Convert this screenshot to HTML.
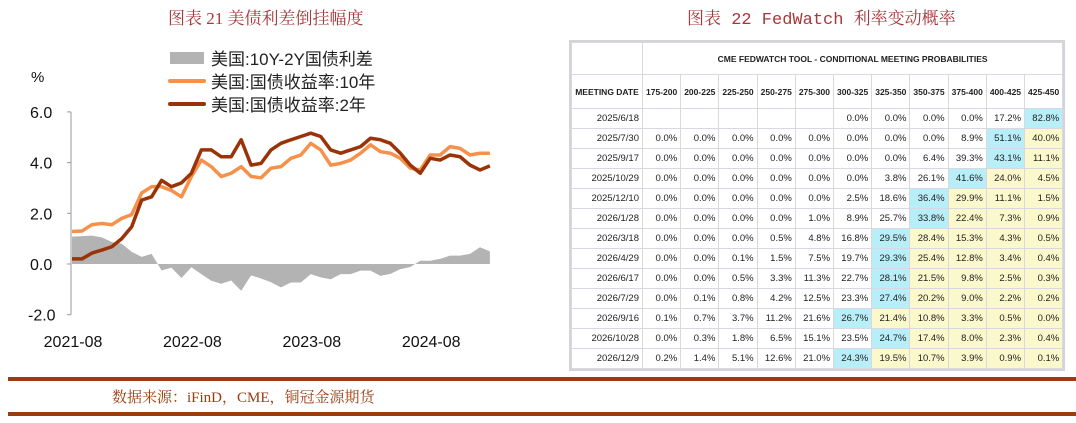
<!DOCTYPE html>
<html><head><meta charset="utf-8">
<style>
body{margin:0;width:1076px;height:423px;background:#fff;position:relative;overflow:hidden;font-family:"Liberation Sans","Noto Sans CJK SC",sans-serif}
.title{position:absolute;top:4px;font-family:"Liberation Serif","Noto Serif CJK SC",serif;font-size:17px;color:#a8373a}
#tbl{position:absolute;left:571px;top:42px;border-collapse:collapse;font-family:"Liberation Sans",sans-serif;font-size:9.5px;color:#222;background:#fff;outline:2px solid #d4d4d8}
#tbl td{border:1px solid #d8d8e0;text-align:right;padding:0 3px;height:19px;white-space:nowrap}
#tbl .h1 td{height:31px;text-align:center;font-weight:bold;font-size:8.5px}
#tbl .h2 td{height:33px;text-align:center;font-weight:bold;font-size:8.5px}
.cy{background:#b8eef8}.yl{background:#fbf8cc}
.rule{position:absolute;left:8px;width:1068px;height:4px;background:#9c3b0d}
</style></head><body>
<div class="title" style="left:168px">图表 21 美债利差倒挂幅度</div>
<div class="title" style="left:687px;font-family:'Liberation Mono','Noto Serif CJK SC',serif">图表 22 FedWatch 利率变动概率</div>
<svg id="chart" width="560" height="370" style="position:absolute;left:0;top:0"></svg>
<table id="tbl"></table>
<div class="rule" style="top:377px"></div>
<div style="position:absolute;left:112px;top:386px;font-family:'Liberation Serif','Noto Serif CJK SC',serif;font-size:15px;color:#9c3b0d">数据来源：iFinD，CME，铜冠金源期货</div>
<div class="rule" style="top:412px"></div>
<script>
const yields10 = [1.28,1.3,1.55,1.6,1.55,1.8,1.95,2.8,3.05,3.05,2.9,2.65,3.45,4.1,3.84,3.45,3.58,3.84,3.45,3.4,3.78,3.84,4.17,4.3,4.76,4.5,3.9,3.97,4.1,4.37,4.7,4.43,4.37,4.17,3.78,3.71,4.3,4.3,4.63,4.56,4.3,4.37,4.37];
const yields2 = [0.2,0.2,0.43,0.55,0.68,1.0,1.47,2.52,2.65,3.3,3.05,3.2,3.58,4.5,4.5,4.23,4.23,4.9,3.9,3.97,4.5,4.76,4.9,5.03,5.16,5.03,4.5,4.37,4.5,4.63,4.96,4.9,4.76,4.37,3.9,3.58,4.17,4.1,4.3,4.23,3.9,3.71,3.87];
const yTicks = [6.0,4.0,2.0,0.0,-2.0];
const xLabels = ["2021-08","2022-08","2023-08","2024-08"];
const xLabelIdx = [0,12,24,36];
const NS='http://www.w3.org/2000/svg';
const svg=document.getElementById('chart');
const X=i=>72+i*9.95, Y=v=>264-v*25.35;
function el(t,a){const e=document.createElementNS(NS,t);for(const k in a)e.setAttribute(k,a[k]);svg.appendChild(e);return e;}
let d='M'+X(0)+','+Y(0);
yields10.forEach((v,i)=>{d+=' L'+X(i)+','+Y(v-yields2[i]);});
d+=' L'+X(yields10.length-1)+','+Y(0)+' Z';
let a=el('path',{d:d,fill:'#b3b3b3'});


let ax=el('line',{x1:71,y1:Y(6),x2:71,y2:Y(-2),stroke:'#999','stroke-width':1});


yTicks.forEach(t=>{
  el('line',{x1:67,x2:71,y1:Y(t),y2:Y(t),stroke:'#999'});
  let tx=el('text',{x:t<0?28:30,y:Y(t)+6,'font-size':16,fill:'#111'});tx.textContent=t.toFixed(1);
  
  
});
xLabels.forEach((l,k)=>{
  let tx=el('text',{x:X(xLabelIdx[k])+1,y:347,'font-size':16,fill:'#111','text-anchor':'middle'});tx.textContent=l;
  
  
});
function line(arr,col,name){
  let p=arr.map((v,i)=>(i?'L':'M')+X(i)+','+Y(v)).join(' ');
  let e=el('path',{d:p,fill:'none',stroke:col,'stroke-width':3.5,'stroke-linejoin':'round'});
  
  
}
line(yields10,'#f5914a','line-10y-yield');
line(yields2,'#9a3308','line-2y-yield');
let pc=el('text',{x:31,y:82,'font-size':15,fill:'#111'});pc.textContent='%';


const leg=[['美国:10Y-2Y国债利差','#b3b3b3','box'],['美国:国债收益率:10年','#f5914a','l'],['美国:国债收益率:2年','#9a3308','l']];
leg.forEach((g,k)=>{
  const y=58+k*23;
  if(g[2]=='box')el('rect',{x:170,y:y-6,width:34,height:12,fill:g[1]});
  else el('line',{x1:170,x2:204,y1:y,y2:y,stroke:g[1],'stroke-width':4,'stroke-linecap':'round'});
  let t=el('text',{x:211,y:y+7,'font-size':17,fill:'#222'});t.textContent=g[0];
  
  
});
const cols=['175-200','200-225','225-250','250-275','275-300','300-325','325-350','350-375','375-400','400-425','425-450'];
const dates=['2025/6/18','2025/7/30','2025/9/17','2025/10/29','2025/12/10','2026/1/28','2026/3/18','2026/4/29','2026/6/17','2026/7/29','2026/9/16','2026/10/28','2026/12/9'];
const probs=[
[null,null,null,null,null,0,0,0,0,17.2,82.8],
[0,0,0,0,0,0,0,0,8.9,51.1,40.0],
[0,0,0,0,0,0,0,6.4,39.3,43.1,11.1],
[0,0,0,0,0,0,3.8,26.1,41.6,24.0,4.5],
[0,0,0,0,0,2.5,18.6,36.4,29.9,11.1,1.5],
[0,0,0,0,1.0,8.9,25.7,33.8,22.4,7.3,0.9],
[0,0,0,0.5,4.8,16.8,29.5,28.4,15.3,4.3,0.5],
[0,0,0.1,1.5,7.5,19.7,29.3,25.4,12.8,3.4,0.4],
[0,0,0.5,3.3,11.3,22.7,28.1,21.5,9.8,2.5,0.3],
[0,0.1,0.8,4.2,12.5,23.3,27.4,20.2,9.0,2.2,0.2],
[0.1,0.7,3.7,11.2,21.6,26.7,21.4,10.8,3.3,0.5,0.0],
[0,0.3,1.8,6.5,15.1,23.5,24.7,17.4,8.0,2.3,0.4],
[0.2,1.4,5.1,12.6,21.0,24.3,19.5,10.7,3.9,0.9,0.1]];
const tb=document.getElementById('tbl');
let h='<tr class="h1"><td style="width:64px"></td><td colspan="11">CME FEDWATCH TOOL - CONDITIONAL MEETING PROBABILITIES</td></tr>';
h+='<tr class="h2"><td>MEETING DATE</td>'+cols.map(c=>'<td style="width:31px">'+c+'</td>').join('')+'</tr>';
tb.innerHTML=h;
dates.forEach((dt,r)=>{
  const row=probs[r];let mi=0;row.forEach((v,i)=>{if(v!==null&&v>row[mi])mi=i;});
  const tr=document.createElement('tr');
  
  
  let s='<td>'+dt+'</td>';
  row.forEach((v,i)=>{const c=i==mi?'cy':(i>mi?'yl':'');s+='<td class="'+c+'">'+(v===null?'':v.toFixed(1)+'%')+'</td>';});
  tr.innerHTML=s;tb.appendChild(tr);
});
</script>
</body></html>
